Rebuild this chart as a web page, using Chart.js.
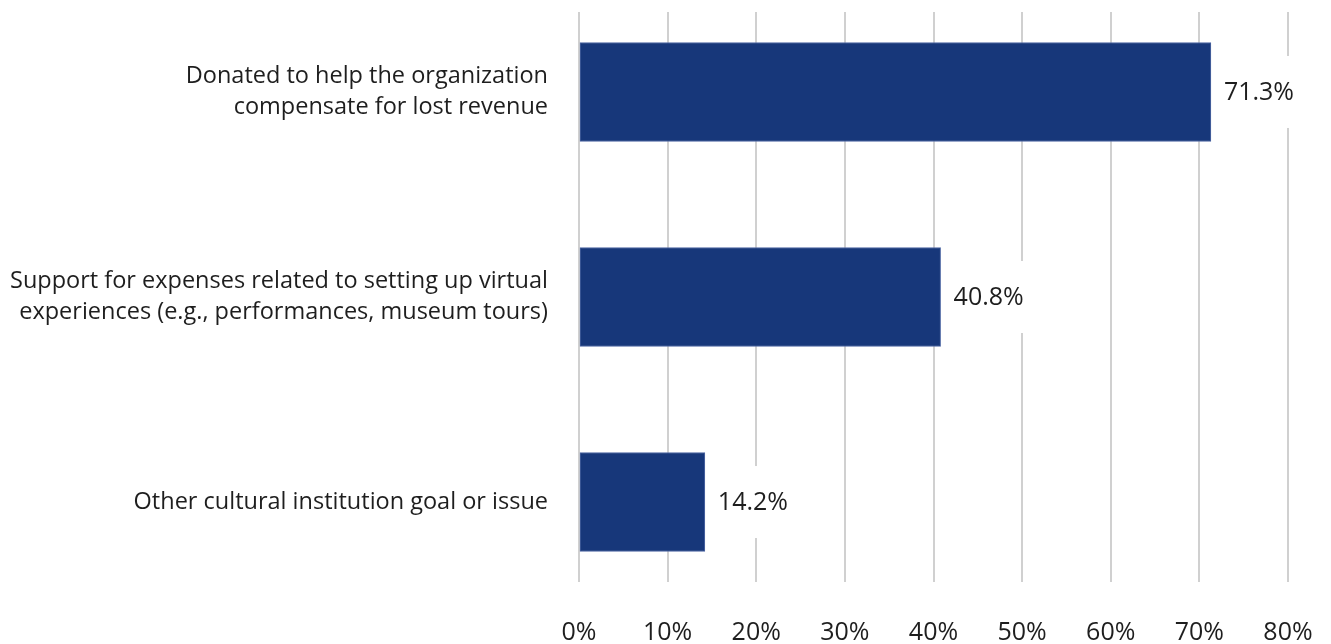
<!DOCTYPE html>
<html>
<head>
<meta charset="utf-8">
<script src="https://cdn.jsdelivr.net/npm/chart.js@4"></script>
<style>
  html, body { margin: 0; padding: 0; background: #fff; }
  #wrap { width: 1331px; height: 644px; }
</style>
</head>
<body>
<div id="wrap"><canvas id="surveyChart"></canvas></div>
<script>
const categories = [
  ['Donated to help the organization', 'compensate for lost revenue'],
  ['Support for expenses related to setting up virtual', 'experiences (e.g., performances, museum tours)'],
  ['Other cultural institution goal or issue']
];
const shares = [71.3, 40.8, 14.2];
const xTicks = [0, 10, 20, 30, 40, 50, 60, 70, 80];

(() => {
  const FONT = '"Open Sans", "Noto Sans", sans-serif';
  const NAVY = '#17377a';
  const GRID = '#d0d0d0';

  // value labels sit on a white box, so the grid lines break behind them
  const valueLabels = {
    id: 'valueLabels',
    afterDatasetsDraw(chart) {
      const ctx = chart.ctx;
      const meta = chart.getDatasetMeta(0);
      ctx.save();
      ctx.font = `25px ${FONT}`;
      ctx.textBaseline = 'middle';
      ctx.textAlign = 'left';
      meta.data.forEach((bar, i) => {
        const txt = shares[i].toFixed(1) + '%';
        const w = ctx.measureText(txt).width;
        const x = bar.x + 13;
        ctx.fillStyle = '#fff';
        ctx.fillRect(x - 6, bar.y - 36, w + 12, 72);
        ctx.fillStyle = '#1e1e1e';
        ctx.fillText(txt, x, bar.y + 1);
      });
      ctx.restore();
    }
  };

  new Chart(document.getElementById('surveyChart'), {
    type: 'bar',
    data: {
      datasets: [{
        data: shares.map((v, i) => ({ x: v, y: i })),
        backgroundColor: NAVY,
        borderColor: '#4d66a3',
        borderWidth: 1,
        borderSkipped: false,
        barThickness: 99
      }]
    },
    options: {
      indexAxis: 'y',
      responsive: true,
      maintainAspectRatio: false,
      animation: false,
      layout: { padding: { top: 12, right: 43, left: 0, bottom: 0 } },
      plugins: {
        legend: { display: false },
        tooltip: { enabled: false }
      },
      scales: {
        x: {
          type: 'linear',
          min: 0,
          max: 80,
          afterBuildTicks: s => { s.ticks = xTicks.map(v => ({ value: v })); },
          afterFit: s => { s.height = 62; s.paddingLeft = 0; s.paddingRight = 0; },
          grid: { color: GRID, lineWidth: 2, drawTicks: false },
          border: { display: false },
          ticks: {
            padding: 36,
            color: '#1e1e1e',
            font: { family: FONT, size: 25 },
            callback: v => v + '%'
          }
        },
        y: {
          type: 'linear',
          reverse: true,
          offset: false,
          min: -0.39,
          max: 2.39,
          afterBuildTicks: s => { s.ticks = categories.map((_, i) => ({ value: i })); },
          afterFit: s => { s.width = 579; s.paddingTop = 0; s.paddingBottom = 0; },
          grid: { display: false, drawTicks: false, offset: false },
          border: { display: false },
          ticks: {
            padding: 31,
            color: '#1e1e1e',
            font: { family: FONT, size: 23.5, lineHeight: 1.3 },
            callback: v => categories[v]
          }
        }
      }
    },
    plugins: [valueLabels]
  });
})();
</script>
</body>
</html>
